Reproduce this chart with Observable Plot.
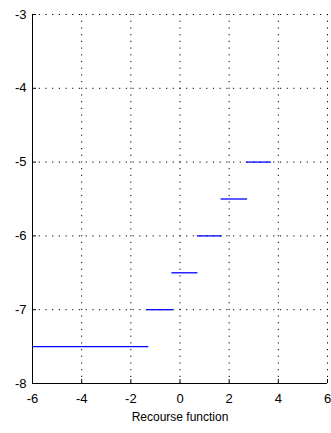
<!DOCTYPE html>
<html>
<head>
<meta charset="utf-8">
<script src="https://cdn.jsdelivr.net/npm/d3@7"></script>
<script src="https://cdn.jsdelivr.net/npm/@observablehq/plot@0.6"></script>
<style>
  html, body { margin: 0; padding: 0; background: #fff; }
  svg { display: block; }
</style>
</head>
<body>
<div id="chart"></div>
<script>
const stepY  = [-7.5, -7, -6.5, -6, -5.5, -5];
const stepX1 = [-6, -1.35, -0.33, 0.7, 1.67, 2.7];
const stepX2 = [-1.27, -0.27, 0.73, 1.72, 2.75, 3.72];
const xTicks = [-6, -4, -2, 0, 2, 4, 6];
const yTicks = [-8, -7, -6, -5, -4, -3];
const xLabel = "Recourse function";

const steps = stepY.map((y, i) => ({y, x1: stepX1[i], x2: stepX2[i]}));
const fmt = d => String(d);

const chart = Plot.plot({
  width: 331,
  height: 433,
  marginLeft: 32,
  marginRight: 4,
  marginTop: 14,
  marginBottom: 50,
  style: {fontFamily: "Liberation Sans, Arial, sans-serif", fontSize: "12px", color: "#000", background: "#fff"},
  x: {domain: [-6, 6]},
  y: {domain: [-8, -3]},
  marks: [
    Plot.gridX(xTicks.slice(1), {stroke: "#000", strokeOpacity: 1, strokeWidth: 1, strokeDasharray: "1.2,5.5"}),
    Plot.gridY(yTicks.slice(1), {stroke: "#000", strokeOpacity: 1, strokeWidth: 1, strokeDasharray: "1.2,5.5"}),
    Plot.ruleY(steps, {y: "y", x1: "x1", x2: "x2", stroke: "#0000ff", strokeWidth: 1.3}),
    Plot.ruleX([xTicks[0]], {stroke: "#000"}),
    Plot.ruleY([yTicks[0]], {stroke: "#000"}),
    Plot.axisX(xTicks, {tickSize: -4, tickPadding: 14, label: null, fontSize: 13, tickFormat: fmt}),
    Plot.axisY(yTicks, {tickSize: -4, tickPadding: 10, label: null, fontSize: 13, tickFormat: fmt}),
    Plot.text([xLabel], {frameAnchor: "bottom", dy: 34, lineAnchor: "middle", fontSize: 12})
  ]
});
document.getElementById("chart").append(chart);
</script>
</body>
</html>
